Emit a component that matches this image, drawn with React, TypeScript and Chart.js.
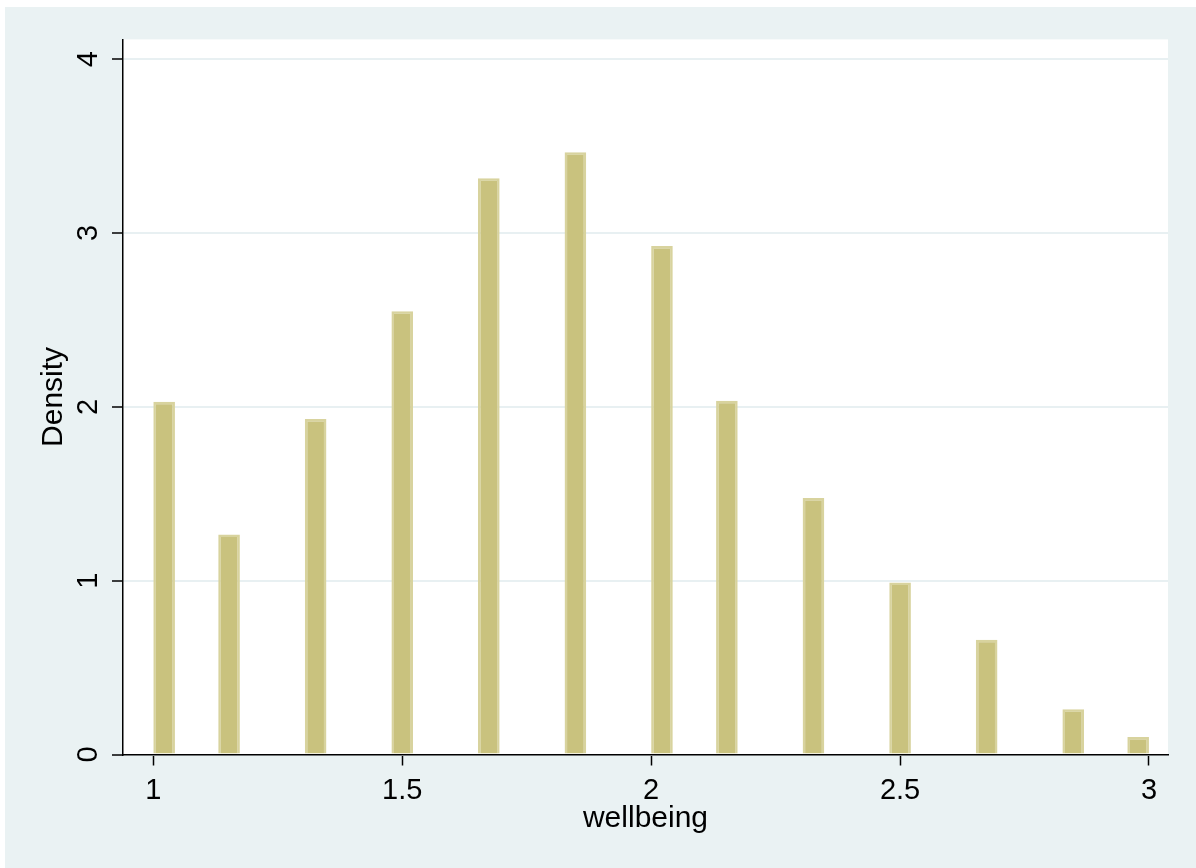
import React, { useEffect, useRef } from "react";
import { Chart, registerables } from "chart.js";

Chart.register(...registerables);

// Histogram of wellbeing: 46 equal bins on [1, 3]; only occupied bins listed.
const binWidth = 2 / 46;
const binStart = [1.0, 1.1304, 1.3043, 1.4783, 1.6522, 1.8261, 2.0, 2.1304, 2.3043, 2.4783, 2.6522, 2.8261, 2.9565];
const density = [2.03, 1.265, 1.93, 2.55, 3.315, 3.465, 2.925, 2.035, 1.475, 0.99, 0.66, 0.26, 0.1];

const xTicks = [1, 1.5, 2, 2.5, 3];
const yTicks = [0, 1, 2, 3, 4];
const xLabel = "wellbeing";
const yLabel = "Density";

const pageBg = "#eaf2f3";
const gridColor = "#e8f0f2";
const barFill = "#c9c27e";
const barEdge = "#d8d39e";
const fontFamily = "Arial, 'Liberation Sans', sans-serif";

const backgroundPlugin = {
  id: "stataBackground",
  beforeDraw(chart: any) {
    const { ctx, chartArea, width, height } = chart;
    ctx.save();
    ctx.fillStyle = pageBg;
    ctx.fillRect(0, 0, width, height);
    ctx.fillStyle = "#ffffff";
    ctx.fillRect(chartArea.left, chartArea.top, chartArea.right - chartArea.left, chartArea.bottom - chartArea.top);
    ctx.restore();
  },
};

export default function App() {
  const canvasRef = useRef<HTMLCanvasElement | null>(null);

  useEffect(() => {
    if (!canvasRef.current) return;
    const points = binStart.map((s, i) => ({ x: s + binWidth / 2, y: density[i] }));
    const chart = new Chart(canvasRef.current, {
      type: "bar",
      data: {
        datasets: [
          {
            data: points,
            backgroundColor: barFill,
            borderColor: barEdge,
            borderWidth: 2.5,
            borderSkipped: "bottom",
            categoryPercentage: 1,
            // nearest occupied bins are 3 bins apart, so one third gives one bin width
            barPercentage: 1 / 3,
          },
        ],
      },
      options: {
        animation: false,
        responsive: false,
        maintainAspectRatio: false,
        devicePixelRatio: 1,
        layout: { padding: { top: 30, right: 28, bottom: 0, left: 0 } },
        plugins: {
          legend: { display: false },
          tooltip: { enabled: false },
        },
        scales: {
          x: {
            type: "linear",
            offset: false,
            min: 0.9391,
            max: 3.0382,
            afterBuildTicks: (scale: any) => {
              scale.ticks = xTicks.map((v) => ({ value: v }));
            },
            afterFit: (scale: any) => {
              scale.height = 113.5;
            },
            ticks: {
              color: "#000000",
              font: { family: fontFamily, size: 29 },
              padding: 8,
              maxRotation: 0,
              minRotation: 0,
              callback: (v: any) => String(v),
            },
            grid: {
              offset: false,
              drawOnChartArea: false,
              drawTicks: true,
              tickLength: 11,
              tickColor: "#000000",
              tickWidth: 1.5,
            },
            border: { display: true, color: "#000000", width: 1.5 },
            title: {
              display: true,
              text: xLabel,
              color: "#000000",
              font: { family: fontFamily, size: 30 },
              padding: { top: 0, bottom: 31 },
            },
          },
          y: {
            type: "linear",
            min: 0,
            max: 4.114,
            afterBuildTicks: (scale: any) => {
              scale.ticks = yTicks.map((v) => ({ value: v }));
            },
            afterFit: (scale: any) => {
              scale.width = 118;
            },
            ticks: {
              color: "#000000",
              font: { family: fontFamily, size: 29 },
              padding: 15,
              minRotation: 90,
              maxRotation: 90,
              crossAlign: "center",
              callback: (v: any) => String(v),
            },
            grid: {
              color: gridColor,
              lineWidth: 2,
              drawTicks: true,
              tickLength: 11,
              tickColor: "#000000",
              tickWidth: 1.5,
            },
            border: { display: true, color: "#000000", width: 1.5 },
            title: {
              display: true,
              text: yLabel,
              color: "#000000",
              font: { family: fontFamily, size: 30 },
              padding: { top: 31, bottom: 0 },
            },
          },
        },
      },
      plugins: [backgroundPlugin],
    });
    return () => chart.destroy();
  }, []);

  return (
    <div style={{ position: "absolute", left: 5, top: 7, width: 1191, height: 861 }}>
      <canvas ref={canvasRef} width={1191} height={861} style={{ display: "block", width: 1191, height: 861 }} />
    </div>
  );
}
